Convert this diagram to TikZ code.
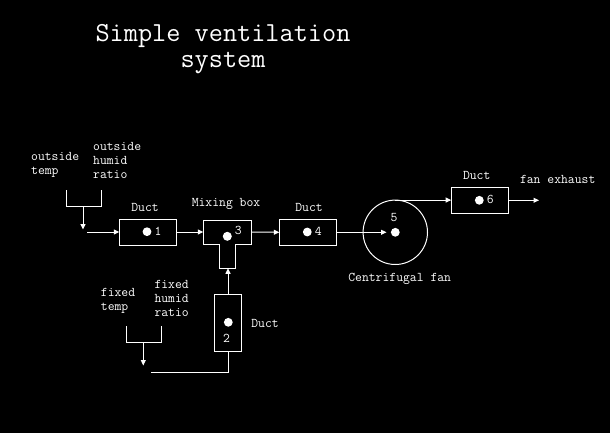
\documentclass[tikz,border=0pt]{standalone}
\usepackage{fontspec}
\usetikzlibrary{arrows.meta}
\tikzset{
  wire/.style={white, line width=1pt},
  arr/.style={wire, -{Triangle[length=5.5pt,width=5pt]}},
  ductbox/.style={draw=white, line width=1pt, inner sep=0pt, outer sep=0pt},
  dot/.style={circle, fill=white, inner sep=0pt, minimum size=8.8pt},
  lbl/.style={text=white, inner sep=0pt, font=\ttfamily\fontsize{13.3}{14}\selectfont},
  lbll/.style={lbl, align=left, anchor=west},
  ttl/.style={text=white, inner sep=0pt, align=center, font=\ttfamily\fontsize{27.5}{26.5}\selectfont}
}
\begin{document}
\begin{tikzpicture}[x=1pt,y=-1pt]
\fill[black] (0,0) rectangle (610,433);
% title
\node[ttl] (t1) at (223,49) {Simple ventilation\\system};
% inputs outside
\node[lbll] (otemp) at (31,165) {outside\\temp};
\node[lbll] (ohum) at (93,160) {outside\\humid\\ratio};
\coordinate (ob1) at (66.5,190);
\coordinate (ob2) at (101.5,190);
\draw[wire] (ob1) -- (66.5,206) -- (101.5,206) -- (ob2);
\coordinate (os) at (83,206);
\coordinate (oe) at (83,229.5);
\draw[arr] (os) -- (oe);
\coordinate (in1) at (87,232);
% duct 1
\node[ductbox, minimum width=57.4pt, minimum height=26pt] (d1) at (148,232) {};
\node[dot] (p1) at (147,231.7) {};
\node[lbl] (n1) at (158,231) {1};
\node[lbl] (l1) at (145,207.5) {Duct};
\draw[arr] (in1) -- (d1.west);
% mixing box
\coordinate (mxl) at (203.3,232);
\coordinate (mxr) at (251.7,232);
\coordinate (mxb) at (228,268.3);
\draw[wire] (203.3,220.3) -- (251.7,220.3) -- (251.7,244.3) -- (235.7,244.3)
  -- (235.7,268.3) -- (219.7,268.3) -- (219.7,244.3) -- (203.3,244.3) -- cycle;
\node[dot, minimum size=9pt] (p3) at (227.3,236.3) {};
\node[lbl] (n3) at (238.3,230.3) {3};
\node[lbl] (lm) at (226,203.5) {Mixing box};
\draw[arr] (d1.east) -- (mxl);
% duct 4
\node[ductbox, minimum width=57.4pt, minimum height=26pt] (d4) at (308,232.3) {};
\node[dot] (p4) at (307.3,232) {};
\node[lbl] (n4) at (318.3,231.5) {4};
\node[lbl] (l4) at (309,207) {Duct};
\draw[arr] (mxr) -- (d4.west);
% fan
\node[draw=white, line width=1pt, circle, minimum size=64.4pt, inner sep=0pt, outer sep=0pt] (fan) at (395.3,232.3) {};
\node[dot] (p5) at (395.3,232.3) {};
\node[lbl] (n5) at (394,218) {5};
\node[lbl] (lf) at (399.7,279) {Centrifugal fan};
\coordinate (fin) at (386.5,232.3);
\draw[arr] (d4.east) -- (fin);
% duct 6
\node[ductbox, minimum width=57.7pt, minimum height=26pt] (d6) at (480,200.3) {};
\node[dot] (p6) at (479.3,200.3) {};
\node[lbl] (n6) at (490.3,199) {6};
\node[lbl] (l6) at (476.7,175) {Duct};
\node[lbl] (lx) at (557.7,179) {fan exhaust};
\draw[arr] (fan.north) -- (d6.west |- fan.north);
\coordinate (ex) at (539,200.3);
\draw[arr] (d6.east) -- (ex);
% duct 2
\node[ductbox, minimum width=26.7pt, minimum height=57pt] (d2) at (228.3,322.8) {};
\node[dot] (p2) at (228.3,322.3) {};
\node[lbl] (n2) at (226.5,338.3) {2};
\node[lbl] (l2) at (265,323) {Duct};
\draw[arr] (d2.north -| mxb) -- (mxb);
% fixed inputs
\node[lbll] (ftemp) at (100.7,301) {fixed\\temp};
\node[lbll] (fhum) at (154.3,298) {fixed\\humid\\ratio};
\coordinate (fb1) at (126.3,326);
\coordinate (fb2) at (161.7,326);
\draw[wire] (fb1) -- (126.3,342) -- (161.7,342) -- (fb2);
\coordinate (fs) at (143.3,342);
\coordinate (fe) at (143.3,365.5);
\draw[arr] (fs) -- (fe);
\coordinate (fl) at (151,372);
\draw[wire] (d2.south) -- (d2.south |- fl) -- (fl);
\end{tikzpicture}
\end{document}
